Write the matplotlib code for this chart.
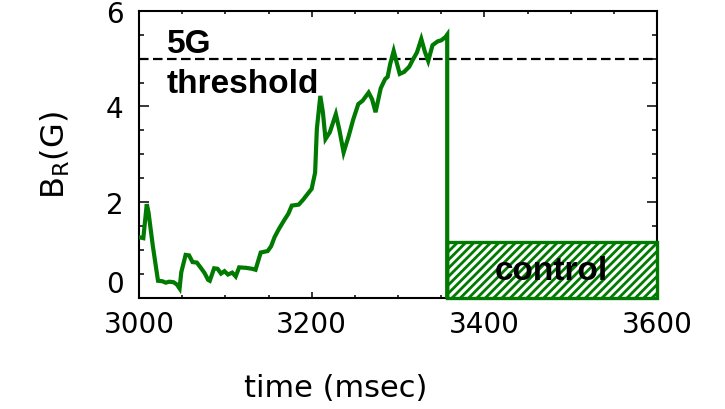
import matplotlib
matplotlib.use("Agg")
import matplotlib.pyplot as plt
from matplotlib.ticker import MultipleLocator

# Radial field trace B_R(t)
time_ms = [3000, 3005, 3009, 3011, 3016, 3022, 3027, 3031, 3035, 3040, 3044, 3047,
           3049, 3054, 3058, 3062, 3067, 3072, 3076, 3080, 3082, 3087, 3091, 3095,
           3099, 3103, 3108, 3112, 3116, 3124, 3131, 3135, 3141, 3149, 3153, 3157,
           3162, 3168, 3173, 3177, 3185, 3190, 3193, 3200, 3204, 3206, 3210, 3213,
           3216, 3221, 3228, 3232, 3237, 3243, 3248, 3254, 3259, 3266, 3270, 3274,
           3280, 3285, 3288, 3291, 3295, 3298, 3302, 3307, 3313, 3317, 3322, 3327,
           3331, 3335, 3340, 3346, 3350, 3355, 3357, 3357]
b_r = [1.27, 1.25, 1.96, 1.79, 1.09, 0.36, 0.35, 0.32, 0.34, 0.33, 0.28, 0.20,
       0.54, 0.90, 0.89, 0.75, 0.74, 0.62, 0.52, 0.38, 0.36, 0.62, 0.61, 0.51,
       0.56, 0.49, 0.53, 0.45, 0.64, 0.63, 0.61, 0.59, 0.95, 0.98, 1.08, 1.27,
       1.44, 1.62, 1.76, 1.93, 1.95, 2.05, 2.12, 2.28, 2.62, 3.53, 4.22, 3.88,
       3.32, 3.46, 3.84, 3.52, 3.04, 3.39, 3.72, 4.05, 4.12, 4.29, 4.15, 3.88,
       4.38, 4.57, 4.62, 4.89, 5.16, 4.95, 4.68, 4.72, 4.83, 4.97, 5.13, 5.41,
       5.15, 4.95, 5.28, 5.36, 5.38, 5.45, 5.50, 0.0]

threshold = 5.0
control_start = 3357
control_end = 3600
control_level = 1.17

x_ticks = [3000, 3200, 3400, 3600]
y_ticks = [0, 2, 4, 6]

green = "#007a00"
plt.rcParams["hatch.linewidth"] = 2.0
plt.rcParams["font.family"] = ["DejaVu Sans"]

fig = plt.figure(figsize=(7.25, 4.1), dpi=100)
ax = fig.add_axes([139 / 725, 1 - 299 / 410, (657 - 139) / 725, (299 - 11.7) / 410])

ax.plot(time_ms, b_r, color=green, lw=3.0, solid_joinstyle="miter", zorder=4)
ax.bar(control_start, control_level, width=control_end - control_start, align="edge",
       facecolor="white", edgecolor=green, hatch="////", lw=2.4, zorder=3, clip_on=False)
ax.axhline(threshold, color="black", lw=1.6, ls=(0, (4.3, 2.0)), zorder=2)

bold = dict(family=["Liberation Sans", "DejaVu Sans"], weight="bold", fontsize=24)
ax.text(3032, 5.14, "5G", ha="left", va="baseline", **bold)
ax.text(3032, 4.30, "threshold", ha="left", va="baseline", **bold)
ax.text(3478, 0.40, "control", ha="center", va="baseline", zorder=5, **bold)

ax.set_xlim(3000, 3600)
ax.set_ylim(0, 6)
ax.set_xticks(x_ticks)
ax.set_yticks(y_ticks)
ax.xaxis.set_minor_locator(MultipleLocator(50))
ax.yaxis.set_minor_locator(MultipleLocator(0.5))

for s in ax.spines.values():
    s.set_linewidth(1.5)

ax.tick_params(which="both", direction="in", top=True, right=True, width=1.1)
ax.tick_params(axis="x", which="major", length=4, pad=9, labelsize=20)
ax.tick_params(axis="x", which="minor", length=2.3)
ax.tick_params(axis="y", which="major", length=7.5, pad=11, labelsize=20)
ax.tick_params(axis="y", which="minor", length=3.8)

# keep the zero label clear of the time labels below it
ax.get_yticklabels()[0].set_verticalalignment("bottom")

ax.set_xlabel("time (msec)", fontsize=22)
ax.xaxis.set_label_coords(0.38, -0.262)
ax.set_ylabel(r"B$_\mathregular{R}$(G)", fontsize=23)
ax.yaxis.set_label_coords(-0.13, 0.5)

fig.savefig("out.png", dpi=100)
